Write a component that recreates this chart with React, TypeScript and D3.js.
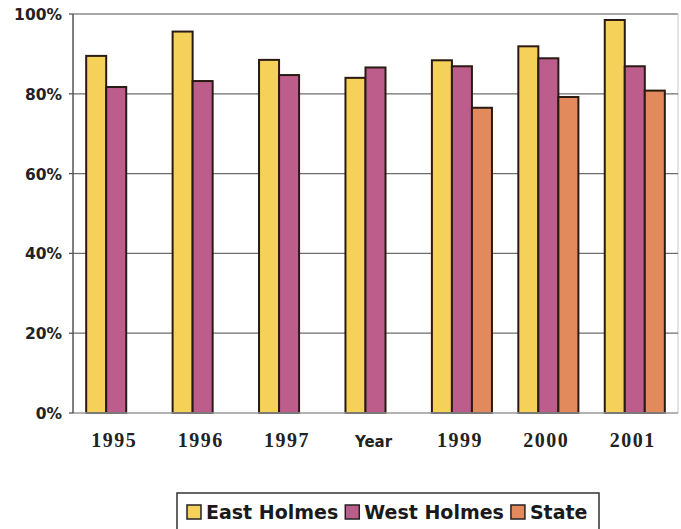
import React, { useEffect, useRef } from "react";
import * as d3 from "d3";

// Categories along the x axis and the share for each group (percent)
const categories = ["1995", "1996", "1997", "Year", "1999", "2000", "2001"];
const eastHolmes = [89.5, 95.6, 88.5, 84.0, 88.4, 91.9, 98.5];
const westHolmes = [81.7, 83.2, 84.7, 86.6, 86.9, 88.9, 86.9];
const state: (number | null)[] = [null, null, null, null, 76.5, 79.2, 80.8];
const seriesNames = ["East Holmes", "West Holmes", "State"];
const seriesColors = ["#F6D15A", "#BC5D8C", "#E38A5C"];
const yTicks = [0, 20, 40, 60, 80, 100];

const W = 681;
const H = 529;
const M = { left: 73, right: 678, top: 14, bottom: 413 };

export default function App() {
  const ref = useRef<SVGSVGElement | null>(null);

  useEffect(() => {
    const svg = d3.select(ref.current);
    svg.selectAll("*").remove();

    const x = d3.scaleBand<string>().domain(categories).range([M.left, M.right]);
    const groupW = x.bandwidth() * 0.695;
    const x1 = d3.scaleBand<string>().domain(seriesNames).range([0, groupW]);
    const y = d3.scaleLinear().domain([0, 100]).range([M.bottom, M.top]);

    const g = svg.append("g");

    // plot frame: top and right edges
    g.append("line")
      .attr("x1", M.left).attr("x2", M.right)
      .attr("y1", y(100)).attr("y2", y(100))
      .attr("stroke", "#8a8a8a").attr("stroke-width", 1.5);
    g.append("line")
      .attr("x1", M.right).attr("x2", M.right)
      .attr("y1", y(100)).attr("y2", y(0))
      .attr("stroke", "#c8c8c8").attr("stroke-width", 1);

    // horizontal gridlines
    g.selectAll("line.grid")
      .data(yTicks.filter((t) => t > 0 && t < 100))
      .join("line")
      .attr("class", "grid")
      .attr("x1", M.left).attr("x2", M.right)
      .attr("y1", (d) => y(d)).attr("y2", (d) => y(d))
      .attr("stroke", "#6e6e6e").attr("stroke-width", 1.3);

    // bars
    const rows = categories.map((c, i) => ({
      cat: c,
      vals: [eastHolmes[i], westHolmes[i], state[i]],
    }));
    const groups = g.selectAll("g.cat").data(rows).join("g")
      .attr("class", "cat")
      .attr("transform", (d) => `translate(${(x(d.cat) ?? 0) + (x.bandwidth() - groupW) / 2},0)`);
    groups.selectAll("rect")
      .data((d) => d.vals.map((v, k) => ({ v, k })).filter((e) => e.v != null))
      .join("rect")
      .attr("x", (d) => x1(seriesNames[d.k]) ?? 0)
      .attr("width", x1.bandwidth())
      .attr("y", (d) => y(d.v as number))
      .attr("height", (d) => y(0) - y(d.v as number))
      .attr("fill", (d) => seriesColors[d.k])
      .attr("stroke", "#2a1a14")
      .attr("stroke-width", 2);

    // baseline and left axis
    g.append("line")
      .attr("x1", M.left).attr("x2", M.right)
      .attr("y1", y(0)).attr("y2", y(0))
      .attr("stroke", "#9a9a9a").attr("stroke-width", 1.5);
    g.append("line")
      .attr("x1", M.left).attr("x2", M.left)
      .attr("y1", y(100)).attr("y2", y(0))
      .attr("stroke", "#555").attr("stroke-width", 1.5);

    // y ticks and labels
    g.selectAll("line.tick")
      .data(yTicks)
      .join("line")
      .attr("class", "tick")
      .attr("x1", M.left - 4).attr("x2", M.left)
      .attr("y1", (d) => y(d)).attr("y2", (d) => y(d))
      .attr("stroke", "#555").attr("stroke-width", 1.3);
    g.selectAll("text.ylab")
      .data(yTicks)
      .join("text")
      .attr("class", "ylab")
      .attr("x", 62)
      .attr("y", (d) => y(d) + 6)
      .attr("text-anchor", "end")
      .attr("font-family", "DejaVu Sans")
      .attr("font-weight", "bold")
      .attr("font-size", 15.5)
      .attr("fill", "#222")
      .text((d) => `${d}%`);

    // x category labels
    g.selectAll("text.xlab")
      .data(categories)
      .join("text")
      .attr("class", "xlab")
      .attr("x", (d) => (x(d) ?? 0) + x.bandwidth() / 2 - 2)
      .attr("y", 447)
      .attr("text-anchor", "middle")
      .attr("fill", "#222")
      .attr("font-weight", "bold")
      .attr("font-family", (d) => (/^\d+$/.test(d) ? "Liberation Serif" : "DejaVu Sans"))
      .attr("font-size", (d) => (/^\d+$/.test(d) ? 20 : 15))
      .attr("letter-spacing", (d) => (/^\d+$/.test(d) ? 1.5 : 0))
      .text((d) => d);

    // legend
    const lg = svg.append("g");
    lg.append("rect")
      .attr("x", 177).attr("y", 493)
      .attr("width", 422).attr("height", 60)
      .attr("fill", "#fff")
      .attr("stroke", "#333").attr("stroke-width", 1.5);
    let cx = 187;
    seriesNames.forEach((name, k) => {
      lg.append("rect")
        .attr("x", cx).attr("y", 505)
        .attr("width", 14).attr("height", 14)
        .attr("fill", seriesColors[k])
        .attr("stroke", "#222").attr("stroke-width", 1.5);
      const t = lg.append("text")
        .attr("x", cx + 19).attr("y", 519)
        .attr("font-family", "DejaVu Sans")
        .attr("font-weight", "bold")
        .attr("font-size", 19)
        .attr("fill", "#1a1a1a")
        .text(name);
      const w = (t.node() as SVGTextElement).getComputedTextLength();
      cx = cx + 19 + w + 7;
    });
  }, []);

  return (
    <svg
      ref={ref}
      width={W}
      height={H}
      style={{ position: "absolute", left: 0, top: 0, background: "#fff" }}
    />
  );
}
